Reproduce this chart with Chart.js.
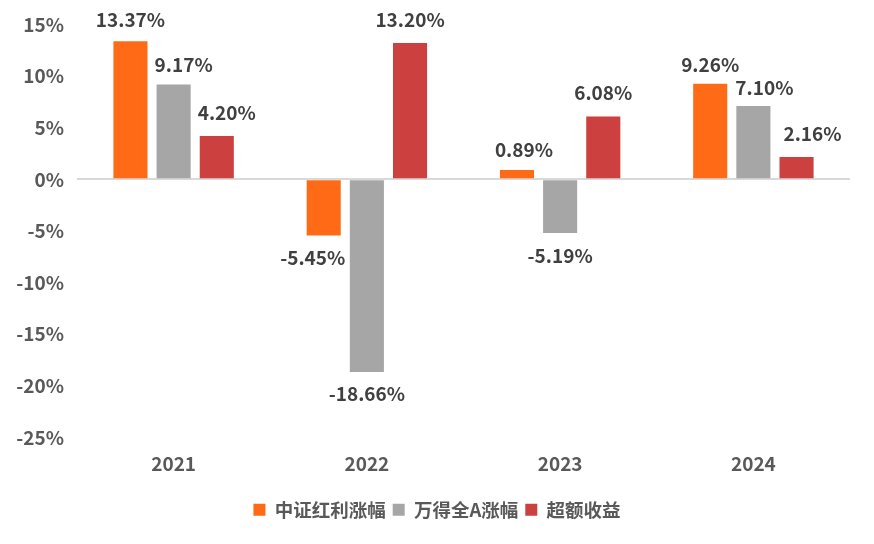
<!DOCTYPE html>
<html><head><meta charset="utf-8">
<script src="https://cdn.jsdelivr.net/npm/chart.js@4"></script>
<style>html,body{margin:0;padding:0;background:#fff}</style>
</head><body>
<canvas id="c" width="874" height="544"></canvas>
<script>
const years = ['2021','2022','2023','2024'];
const csiDividend = [13.37, -5.45, 0.89, 9.26];
const windAllA = [9.17, -18.66, -5.19, 7.10];
const excessReturn = [4.20, 13.20, 6.08, 2.16];
const seriesNames = ['中证红利涨幅','万得全A涨幅','超额收益'];
const seriesColors = ['#FF6A16','#A6A6A6','#CC4040'];
const yTicks = [-25, -20, -15, -10, -5, 0, 5, 10, 15];

// manual label nudges (px) as placed in the original, per series / per year
const labelNudgeX = [[0, -11, 7, 0], [10, 0, 0, 11], [10, 0, 0, 16]];
const labelNudgeY = [[1, -1, 2, 3], [2, -1, 0, 4], [-1, -1, -2, -1]];

const FONT = '"Noto Sans CJK SC", "Noto Sans", sans-serif';

const labelPlugin = {
  id: 'barLabels',
  afterDatasetsDraw(chart) {
    const ctx = chart.ctx;
    ctx.save();
    ctx.font = 'bold 19px ' + FONT;
    ctx.fillStyle = '#404040';
    ctx.textAlign = 'center';
    ctx.textBaseline = 'middle';
    chart.data.datasets.forEach((ds, i) => {
      const meta = chart.getDatasetMeta(i);
      meta.data.forEach((bar, j) => {
        const v = ds.data[j];
        const txt = v.toFixed(2) + '%';
        const base = v >= 0 ? -22 : 23;
        ctx.fillText(txt, bar.x + labelNudgeX[i][j], bar.y + base + labelNudgeY[i][j]);
      });
    });
    ctx.restore();
  }
};

// centre the legend under the whole chart (incl. axis labels) like the original
const legendShift = {
  id: 'legendShift',
  afterLayout(chart) {
    if (chart.legend) { chart.legend.left += 12; chart.legend.right += 12; }
  }
};

new Chart(document.getElementById('c'), {
  type: 'bar',
  data: {
    labels: years,
    datasets: [
      {label: seriesNames[0], data: csiDividend, backgroundColor: seriesColors[0]},
      {label: seriesNames[1], data: windAllA, backgroundColor: seriesColors[1]},
      {label: seriesNames[2], data: excessReturn, backgroundColor: seriesColors[2]}
    ]
  },
  options: {
    responsive: false,
    animation: false,
    devicePixelRatio: 1,
    categoryPercentage: 0.67,
    barPercentage: 0.79,
    layout: {padding: {top: 9, right: 24, left: 0, bottom: 15}},
    plugins: {
      tooltip: {enabled: false},
      legend: {
        position: 'bottom',
        labels: {
          boxWidth: 12, boxHeight: 12, padding: 7,
          color: '#595959',
          font: {family: FONT, size: 18.5, weight: 'bold'}
        }
      }
    },
    scales: {
      x: {
        grid: {display: false, drawTicks: false},
        border: {display: false},
        afterFit: s => { s.height = 56; },
        ticks: {color: '#595959', padding: 15, font: {family: FONT, size: 19, weight: 'bold'}}
      },
      y: {
        min: yTicks[0], max: yTicks[yTicks.length - 1],
        afterFit: s => { s.width = 77; },
        afterBuildTicks: s => { s.ticks = yTicks.map(v => ({value: v})); },
        grid: {
          drawTicks: false,
          color: ctx => ctx.tick && ctx.tick.value === 0 ? '#D9D9D9' : 'rgba(0,0,0,0)',
          lineWidth: 2
        },
        border: {display: false},
        ticks: {
          color: '#595959', padding: 13,
          font: {family: FONT, size: 19, weight: 'bold'},
          callback: v => v + '%'
        }
      }
    }
  },
  plugins: [labelPlugin, legendShift]
});
</script>
</body></html>
